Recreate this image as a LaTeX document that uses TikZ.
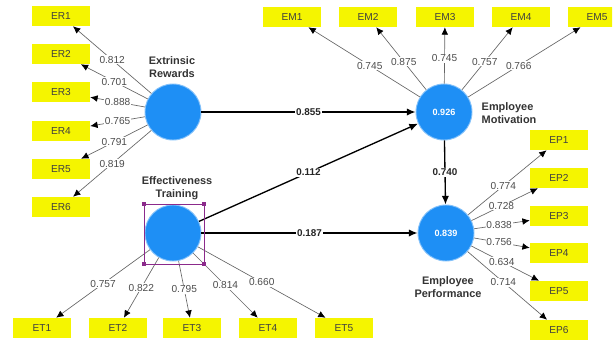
\documentclass[tikz,border=0pt]{standalone}
\usepackage{fontspec}
\setmainfont{Liberation Sans}
\usetikzlibrary{arrows.meta}

\definecolor{plsblue}{HTML}{1E8FF5}
\definecolor{plsyellow}{HTML}{F5F500}
\definecolor{selviolet}{HTML}{8B2A8B}

\begin{document}
\begin{tikzpicture}[x=0.75pt,y=-0.75pt,
  latent/.style={circle,fill=plsblue,draw=plsblue!55!white,line width=0.7pt,minimum size=42pt,inner sep=0pt,text=white,font=\fontsize{6.8}{8}\selectfont\bfseries},
  indicator/.style={rectangle,fill=plsyellow,minimum width=43.5pt,minimum height=15pt,inner sep=0pt,text=black!75,font=\fontsize{7.6}{8}\selectfont},
  lvname/.style={align=center,text=black!80,font=\fontsize{8.2}{9.6}\selectfont\bfseries},
  loading/.style={-{Latex[length=5.5pt,width=5pt,black]},draw=black!60,line width=0.5pt},
  inner/.style={-{Latex[length=6.5pt,width=5.5pt]},draw=black,line width=1pt},
  lval/.style={fill=white,inner sep=0.6pt,text=black!70,font=\fontsize{7.6}{8}\selectfont},
  cval/.style={fill=white,inner sep=0.6pt,text=black!85,font=\fontsize{7.4}{8}\selectfont\bfseries}]

\path[use as bounding box] (0,0) rectangle (614,347);
\clip (0,0) rectangle (612,347);

% latent variables
\node[latent] (ER) at (173,112) {};
\node[latent] (ET) at (173,233) {};
\node[latent] (EM) at (444,112) {0.926};
\node[latent] (EP) at (446,233) {0.839};

\node[lvname] (ERname) at (172,67) {Extrinsic\\Rewards};
\node[lvname] (ETname) at (177,188) {Effectiveness\\Training};
\node[lvname,align=left,anchor=west] (EMname) at (477,113) {Employee\\Motivation};
\node[lvname] (EPname) at (448,287) {Employee\\Performance};

% indicators
\node[indicator] (ER1) at (61,16) {ER1};
\node[indicator] (ER2) at (61,54) {ER2};
\node[indicator] (ER3) at (61,92) {ER3};
\node[indicator] (ER4) at (61,131) {ER4};
\node[indicator] (ER5) at (61,169) {ER5};
\node[indicator] (ER6) at (61,207) {ER6};

\node[indicator] (EM1) at (292,17) {EM1};
\node[indicator] (EM2) at (368,17) {EM2};
\node[indicator] (EM3) at (445,17) {EM3};
\node[indicator] (EM4) at (521,17) {EM4};
\node[indicator] (EM5) at (597,17) {EM5};

\node[indicator] (EP1) at (559,140) {EP1};
\node[indicator] (EP2) at (559,178) {EP2};
\node[indicator] (EP3) at (559,216) {EP3};
\node[indicator] (EP4) at (559,253) {EP4};
\node[indicator] (EP5) at (559,291) {EP5};
\node[indicator] (EP6) at (559,330) {EP6};

\node[indicator] (ET1) at (42,328) {ET1};
\node[indicator] (ET2) at (118,328) {ET2};
\node[indicator] (ET3) at (192,328) {ET3};
\node[indicator] (ET4) at (268,328) {ET4};
\node[indicator] (ET5) at (344,328) {ET5};

% outer loadings
\draw[loading] (ER) -- (ER1) node[lval,pos=0.5] {0.812};
\draw[loading] (ER) -- (ER2) node[lval,pos=0.5] {0.701};
\draw[loading] (ER) -- (ER3) node[lval,pos=0.5] {0.888};
\draw[loading] (ER) -- (ER4) node[lval,pos=0.5] {0.765};
\draw[loading] (ER) -- (ER5) node[lval,pos=0.5] {0.791};
\draw[loading] (ER) -- (ER6) node[lval,pos=0.5] {0.819};

\draw[loading] (EM) -- (EM1) node[lval,pos=0.45] {0.745};
\draw[loading] (EM) -- (EM2) node[lval,pos=0.45] {0.875};
\draw[loading] (EM) -- (EM3) node[lval,pos=0.45] {0.745};
\draw[loading] (EM) -- (EM4) node[lval,pos=0.45] {0.757};
\draw[loading] (EM) -- (EM5) node[lval,pos=0.45] {0.766};

\draw[loading] (EP) -- (EP1) node[lval,pos=0.45] {0.774};
\draw[loading] (EP) -- (EP2) node[lval,pos=0.45] {0.728};
\draw[loading] (EP) -- (EP3) node[lval,pos=0.45] {0.838};
\draw[loading] (EP) -- (EP4) node[lval,pos=0.45] {0.756};
\draw[loading] (EP) -- (EP5) node[lval,pos=0.45] {0.634};
\draw[loading] (EP) -- (EP6) node[lval,pos=0.45] {0.714};

\draw[loading] (ET) -- (ET1) node[lval,pos=0.5] {0.757};
\draw[loading] (ET) -- (ET2) node[lval,pos=0.5] {0.822};
\draw[loading] (ET) -- (ET3) node[lval,pos=0.5] {0.795};
\draw[loading] (ET) -- (ET4) node[lval,pos=0.5] {0.814};
\draw[loading] (ET) -- (ET5) node[lval,pos=0.5] {0.660};

% path coefficients
\draw[inner] (ER) -- (EM) node[cval,pos=0.5] {0.855};
\draw[inner] (ET) -- (EM) node[cval,pos=0.5] {0.112};
\draw[inner] (ET) -- (EP) node[cval,pos=0.5] {0.187};
\draw[inner] (EM) -- (EP) node[cval,pos=0.5] {0.740};

% selection frame
\draw[selviolet,line width=0.5pt] (144,204) rectangle (204,264);
\fill[selviolet] (142,202) rectangle (146,206);
\fill[selviolet] (202,202) rectangle (206,206);
\fill[selviolet] (142,262) rectangle (146,266);
\fill[selviolet] (202,262) rectangle (206,266);
\end{tikzpicture}
\end{document}
